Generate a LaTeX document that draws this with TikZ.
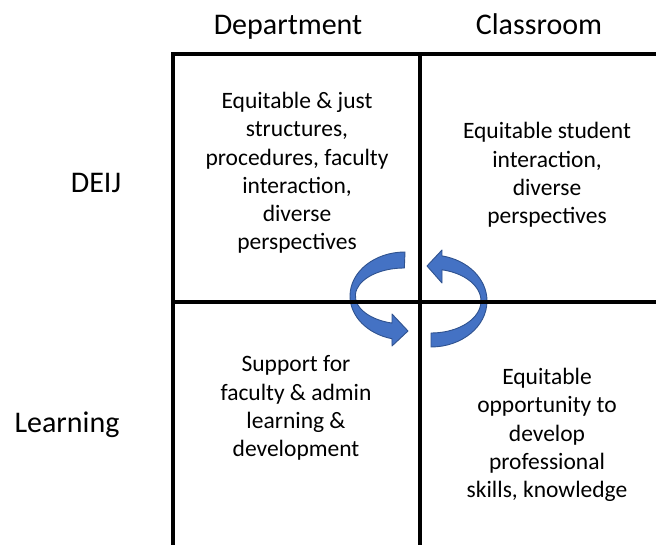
\documentclass[tikz,border=0pt]{standalone}
\usepackage{fontspec}
\setmainfont{Carlito}
\begin{document}
\begin{tikzpicture}[x=1pt,y=1pt,
  header/.style={inner sep=0pt,font=\fontsize{30}{36}\selectfont},
  cell/.style={inner sep=0pt,align=center,font=\fontsize{23.5}{28.2}\selectfont},
  gridline/.style={line width=3.5pt,black},
  cyclearrow/.style={fill=arrowblue,draw=arrowedge,line width=0.9pt,line join=round}]
\definecolor{arrowblue}{HTML}{4472C4}
\definecolor{arrowedge}{HTML}{2F528F}
\useasboundingbox (0,0) rectangle (656,545);

% column and row headings
\node[header,anchor=base] (dept) at (288,510) {Department};
\node[header,anchor=base] (class) at (539,510) {Classroom};
\node[header] (deij) at (96,362) {DEIJ};
\node[header] (learn) at (67,120) {Learning};

% cell contents
\node[cell] (tl) at (297,372) {Equitable \& just\\structures,\\procedures, faculty\\interaction,\\diverse\\perspectives};
\node[cell] (tr) at (547,370) {Equitable student\\interaction,\\diverse\\perspectives};
\node[cell] (bl) at (296,137) {Support for\\faculty \& admin\\learning \&\\development};
\node[cell] (br) at (547,110) {Equitable\\opportunity to\\develop\\professional\\skills, knowledge};

% circular block arrows around the centre of the grid
\draw[cyclearrow] (405,293)
  arc[start angle=90,end angle=256.3,x radius=55pt,y radius=44pt]
  -- (392,199) -- (408,214) -- (392,231) -- (392,221.9)
  arc[start angle=255.4,end angle=90,x radius=49pt,y radius=28pt]
  -- cycle;
\draw[cyclearrow] (431,198)
  arc[start angle=-90,end angle=78.7,x radius=56pt,y radius=46pt]
  -- (442,295) -- (427,279) -- (442,262) -- (442,275.2)
  arc[start angle=77.3,end angle=-90,x radius=50pt,y radius=32pt]
  -- cycle;

% grid lines
\draw[gridline] (656,491) -- (173,491) -- (173,0);
\draw[gridline] (420,491) -- (420,0);
\draw[gridline] (173,243) -- (656,243);
\end{tikzpicture}
\end{document}
